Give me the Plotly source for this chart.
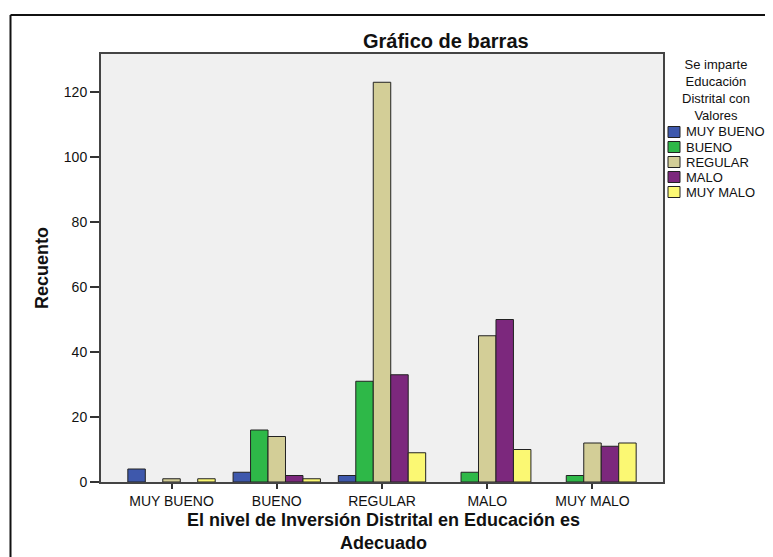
import plotly.graph_objects as go

# categorias del eje x (Inversión Distrital en Educación)
categorias = ['MUY BUENO', 'BUENO', 'REGULAR', 'MALO', 'MUY MALO']

# series: Se imparte Educación Distrital con Valores
series = ['MUY BUENO', 'BUENO', 'REGULAR', 'MALO', 'MUY MALO']
muy_bueno = [4, 3, 2, 0, 0]
bueno = [0, 16, 31, 3, 2]
regular = [1, 14, 123, 45, 12]
malo = [0, 2, 33, 50, 11]
muy_malo = [1, 1, 9, 10, 12]

colores = ['#3E58AC', '#2EB848', '#D3CE97', '#7C287D', '#FBF873']
valores = [muy_bueno, bueno, regular, malo, muy_malo]

titulo_leyenda = 'Se imparte<br>Educación<br>Distrital con<br>Valores'

FONT = 'Arial, Liberation Sans, sans-serif'
TXT = '#111111'

# plot area is 562 x 428 px; helpers turn reference pixels into paper coords
PX0, PY0, PW, PH = 101, 482, 562, 428
def px(x):
    return (x - PX0) / PW
def py(y):
    return (PY0 - y) / PH

fig = go.Figure()
for nombre, vals, col in zip(series, valores, colores):
    fig.add_trace(go.Bar(
        x=categorias,
        # SPSS draws nothing for empty cells, so skip the zero counts
        y=[v if v else None for v in vals],
        name=nombre,
        marker=dict(color=col, line=dict(color='#222222', width=1)),
    ))

annotations = [
    dict(text='<b>Gráfico de barras</b>', x=px(446), y=py(41),
         xanchor='center', yanchor='middle',
         font=dict(family=FONT, size=20, color=TXT)),
    dict(text='<b>El nivel de Inversión Distrital en Educación es<br>Adecuado</b>',
         x=px(383), y=py(531), xanchor='center', yanchor='middle',
         font=dict(family=FONT, size=18, color=TXT)),
    dict(text='<b>Recuento</b>', x=px(42), y=0.5, textangle=-90,
         xanchor='center', yanchor='middle',
         font=dict(family=FONT, size=18, color=TXT)),
    dict(text=titulo_leyenda, x=px(716), y=py(90.5),
         xanchor='center', yanchor='middle', align='center',
         font=dict(family=FONT, size=13, color=TXT)),
]

shapes = [
    # outer frame (top and left edges visible)
    dict(type='line', x0=px(10.5), x1=px(800), y0=py(15), y1=py(15),
         line=dict(color='#111111', width=2)),
    dict(type='line', x0=px(10.5), x1=px(10.5), y0=py(15), y1=py(600),
         line=dict(color='#111111', width=2)),
]

# legend drawn by hand to follow the compact SPSS layout
for i, (nombre, col) in enumerate(zip(series, colores)):
    yc = 132 + 15 * i
    shapes.append(dict(type='rect', x0=px(668), x1=px(680),
                       y0=py(yc - 5.5), y1=py(yc + 5.5),
                       fillcolor=col, line=dict(color='#222222', width=1)))
    annotations.append(dict(text=nombre, x=px(684), y=py(yc),
                            xanchor='left', yanchor='middle',
                            font=dict(family=FONT, size=13, color=TXT)))

for a in annotations:
    a.update(xref='paper', yref='paper', showarrow=False)
for s in shapes:
    s.update(xref='paper', yref='paper')

fig.update_layout(
    width=773,
    height=557,
    # page body adds 8px, so margins are shifted by that amount
    margin=dict(l=PX0 - 8, r=773 - (PX0 + PW) + 8, t=(PY0 - PH) - 8, b=557 - PY0 + 8),
    paper_bgcolor='white',
    plot_bgcolor='#F0F0F0',
    barmode='group',
    bargap=0.17,
    bargroupgap=0,
    font=dict(family=FONT, size=14, color=TXT),
    showlegend=False,
    xaxis=dict(
        range=[-0.67, 4.67],
        showline=True, linecolor='#444444', linewidth=2, mirror=True,
        ticks='outside', ticklen=5, tickwidth=1.5, tickcolor='#333333',
        showgrid=False,
        tickfont=dict(family=FONT, size=14, color=TXT),
    ),
    yaxis=dict(
        range=[0, 131.7],
        tickvals=[0, 20, 40, 60, 80, 100, 120],
        showline=True, linecolor='#444444', linewidth=2, mirror=True,
        ticks='outside', ticklen=9, tickwidth=1.5, tickcolor='#333333',
        showgrid=False, zeroline=False,
        tickfont=dict(family=FONT, size=14, color=TXT),
    ),
    annotations=annotations,
    shapes=shapes,
)

fig.write_html("out.html")
